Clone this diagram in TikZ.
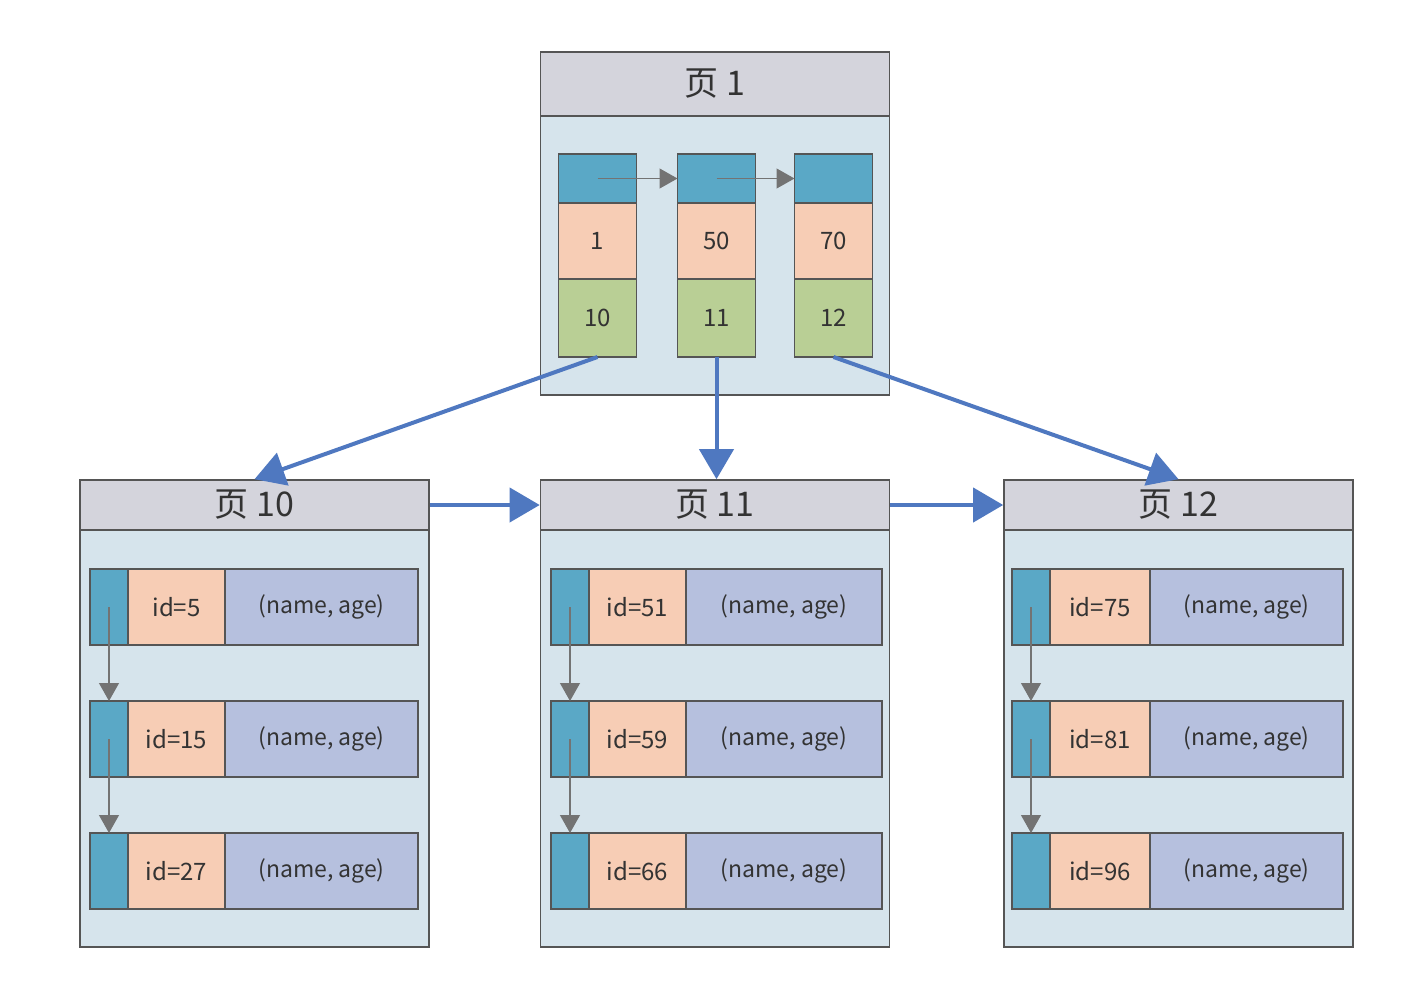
\documentclass[tikz,border=0pt]{standalone}
\usepackage{fontspec}
\setmainfont{Noto Sans CJK SC}
\usepackage{xcolor}
\definecolor{head-gray}{HTML}{D4D4DC}
\definecolor{body-blue}{HTML}{D6E4EC}
\definecolor{ptr-blue}{HTML}{5AA8C6}
\definecolor{key-pink}{HTML}{F7CDB5}
\definecolor{ptr-green}{HTML}{B9CF95}
\definecolor{row-lav}{HTML}{B6C0DE}
\definecolor{edge-gray}{HTML}{555555}
\definecolor{link-blue}{HTML}{4F78C0}
\usetikzlibrary{positioning,arrows.meta}

\begin{document}
\begin{tikzpicture}[x=0.5pt,y=-0.5pt,
	cell/.style={draw=edge-gray,line width=0.8pt,inner sep=0pt,outer sep=0pt,
		font=\fontsize{12}{14}\selectfont,text=black!80},
	pagebody/.style={draw=edge-gray,line width=0.8pt,fill=body-blue,
		minimum width=174.5pt,minimum height=233.5pt,inner sep=0pt},
	pagehead/.style={draw=edge-gray,line width=0.8pt,fill=head-gray,
		minimum width=174.5pt,minimum height=25pt,inner sep=0pt,
		font=\fontsize{17}{19}\selectfont,text=black!80},
	ptr/.style={cell,fill=ptr-blue},
	keyval/.style={cell,fill=key-pink},
	child/.style={cell,fill=ptr-green},
	rowdata/.style={cell,fill=row-lav,font=\fontsize{11.5}{14}\selectfont},
	nextlink/.style={draw=black!55,line width=0.6pt,
		-{Triangle[width=10pt,length=9pt]}},
	treelink/.style={draw=link-blue,line width=2pt,
		-{Triangle[width=17pt,length=15pt]}},
	]
	\useasboundingbox (0,0) rectangle (1402,985);
	
	% ---- root page
	\node[pagebody,minimum height=171.5pt] (P1) at (715,223.5) {};
	\node[pagehead,minimum height=32pt] (H1) at (715,84) {页 1};
	
	\node[ptr,minimum width=39pt,minimum height=24.5pt] (k1) at (597.5,178.5) {};
	\node[keyval,minimum width=39pt,minimum height=38pt,below=0pt of k1] (v1) {1};
	\node[child,minimum width=39pt,minimum height=39pt,below=0pt of v1] (c1) {10};
	
	\node[ptr,minimum width=39pt,minimum height=24.5pt] (k2) at (716.5,178.5) {};
	\node[keyval,minimum width=39pt,minimum height=38pt,below=0pt of k2] (v2) {50};
	\node[child,minimum width=39pt,minimum height=39pt,below=0pt of v2] (c2) {11};
	
	\node[ptr,minimum width=39pt,minimum height=24.5pt] (k3) at (833.5,178.5) {};
	\node[keyval,minimum width=39pt,minimum height=38pt,below=0pt of k3] (v3) {70};
	\node[child,minimum width=39pt,minimum height=39pt,below=0pt of v3] (c3) {12};
	
	\draw[nextlink] (k1.center) -- (k2.west);
	\draw[nextlink] (k2.center) -- (k3.west);
	
	% ---- leaf pages
	\node[pagebody] (P10) at (254.5,713.5) {};
	\node[pagehead] (H10) at (254.5,505) {页 10};
	\node[pagebody] (P11) at (715,713.5) {};
	\node[pagehead] (H11) at (715,505) {页 11};
	\node[pagebody] (P12) at (1178.5,713.5) {};
	\node[pagehead] (H12) at (1178.5,505) {页 12};
	
	% page 10 rows
	\node[ptr,minimum width=19pt,minimum height=38pt] (a1) at (109,607) {};
	\node[keyval,minimum width=48.5pt,minimum height=38pt,right=0pt of a1] (ai1) {id=5};
	\node[rowdata,minimum width=96.5pt,minimum height=38pt,right=0pt of ai1] (ad1) {(name, age)};
	\node[ptr,minimum width=19pt,minimum height=38pt] (a2) at (109,739) {};
	\node[keyval,minimum width=48.5pt,minimum height=38pt,right=0pt of a2] (ai2) {id=15};
	\node[rowdata,minimum width=96.5pt,minimum height=38pt,right=0pt of ai2] (ad2) {(name, age)};
	\node[ptr,minimum width=19pt,minimum height=38pt] (a3) at (109,871) {};
	\node[keyval,minimum width=48.5pt,minimum height=38pt,right=0pt of a3] (ai3) {id=27};
	\node[rowdata,minimum width=96.5pt,minimum height=38pt,right=0pt of ai3] (ad3) {(name, age)};
	
	% page 11 rows
	\node[ptr,minimum width=19pt,minimum height=38pt] (b1) at (570,607) {};
	\node[keyval,minimum width=48.5pt,minimum height=38pt,right=0pt of b1] (bi1) {id=51};
	\node[rowdata,minimum width=98pt,minimum height=38pt,right=0pt of bi1] (bd1) {(name, age)};
	\node[ptr,minimum width=19pt,minimum height=38pt] (b2) at (570,739) {};
	\node[keyval,minimum width=48.5pt,minimum height=38pt,right=0pt of b2] (bi2) {id=59};
	\node[rowdata,minimum width=98pt,minimum height=38pt,right=0pt of bi2] (bd2) {(name, age)};
	\node[ptr,minimum width=19pt,minimum height=38pt] (b3) at (570,871) {};
	\node[keyval,minimum width=48.5pt,minimum height=38pt,right=0pt of b3] (bi3) {id=66};
	\node[rowdata,minimum width=98pt,minimum height=38pt,right=0pt of bi3] (bd3) {(name, age)};
	
	% page 12 rows
	\node[ptr,minimum width=19pt,minimum height=38pt] (d1) at (1031,607) {};
	\node[keyval,minimum width=50pt,minimum height=38pt,right=0pt of d1] (di1) {id=75};
	\node[rowdata,minimum width=96.5pt,minimum height=38pt,right=0pt of di1] (dd1) {(name, age)};
	\node[ptr,minimum width=19pt,minimum height=38pt] (d2) at (1031,739) {};
	\node[keyval,minimum width=50pt,minimum height=38pt,right=0pt of d2] (di2) {id=81};
	\node[rowdata,minimum width=96.5pt,minimum height=38pt,right=0pt of di2] (dd2) {(name, age)};
	\node[ptr,minimum width=19pt,minimum height=38pt] (d3) at (1031,871) {};
	\node[keyval,minimum width=50pt,minimum height=38pt,right=0pt of d3] (di3) {id=96};
	\node[rowdata,minimum width=96.5pt,minimum height=38pt,right=0pt of di3] (dd3) {(name, age)};
	
	\draw[nextlink] (a1.center) -- (a2.north);
	\draw[nextlink] (a2.center) -- (a3.north);
	\draw[nextlink] (b1.center) -- (b2.north);
	\draw[nextlink] (b2.center) -- (b3.north);
	\draw[nextlink] (d1.center) -- (d2.north);
	\draw[nextlink] (d2.center) -- (d3.north);
	
	% ---- links between pages
	\draw[treelink] (c1.south) -- (H10.north);
	\draw[treelink] (c2.south) -- (c2.south |- H11.north);
	\draw[treelink] (c3.south) -- (H12.north);
	\draw[treelink] (H10.east) -- (H11.west);
	\draw[treelink] (H11.east) -- (H12.west);
	
\end{tikzpicture}
\end{document}
